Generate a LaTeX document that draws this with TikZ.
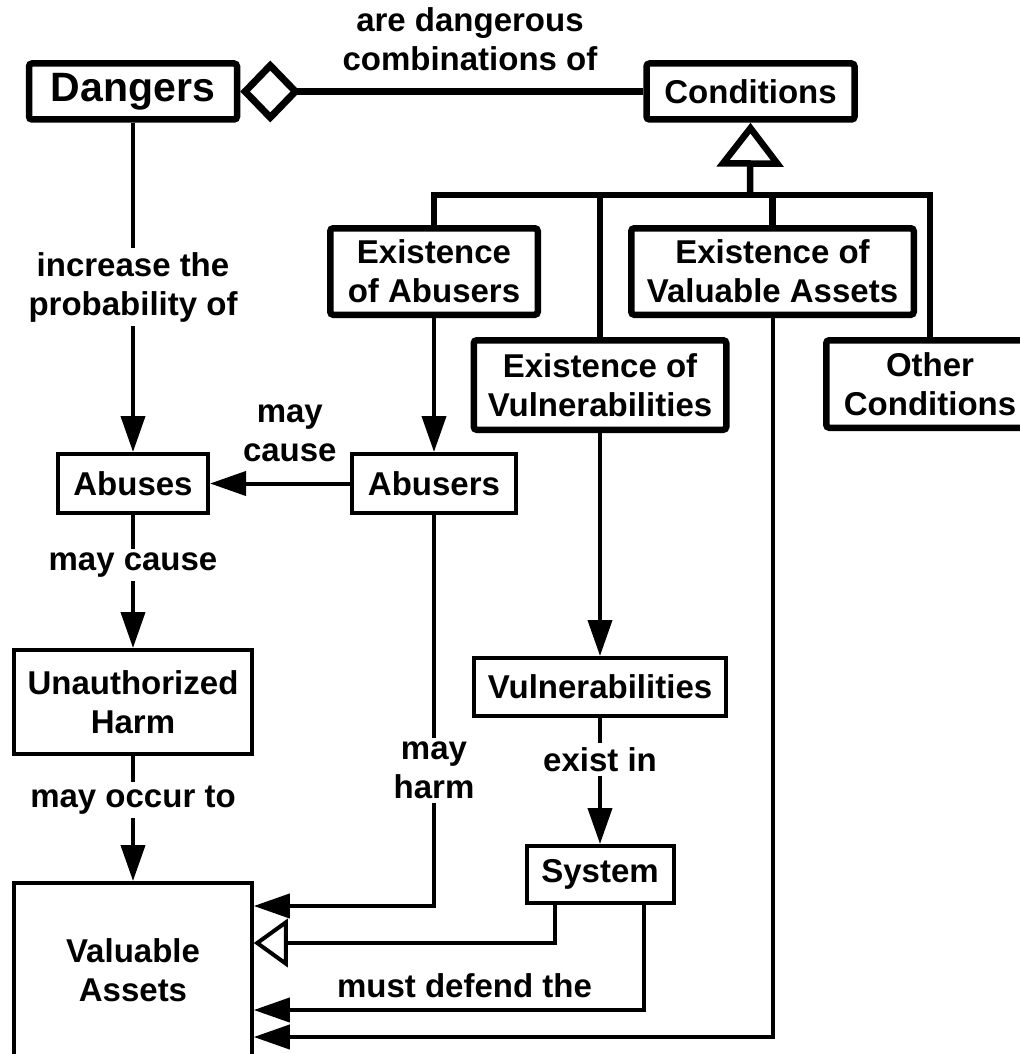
\documentclass[tikz,border=0pt]{standalone}
\usepackage{fontspec}
\setmainfont{Liberation Sans}
\usetikzlibrary{arrows.meta, positioning}

\tikzset{
  every node/.style={font=\bfseries\fontsize{16.5}{19.5}\selectfont},
  thinbox/.style={draw, line width=2pt, align=center, inner sep=0pt},
  thickbox/.style={thinbox, line width=3.25pt, rounded corners=1.5pt},
  lbl/.style={fill=white, align=center, inner sep=2pt},
  flow/.style={line width=2pt, -{Triangle[length=18pt, width=12pt]}},
  isa/.style={line width=2pt, -{Triangle[open, length=17pt, width=24pt]}},
  bus/.style={line width=3.25pt},
}

\begin{document}
\begin{tikzpicture}[x=0.5pt, y=-0.5pt]
  \useasboundingbox (0,0) rectangle (1020,1054);

  % dangers and conditions
  \node[thickbox, minimum width=104pt, minimum height=28pt,
        font=\bfseries\fontsize{20.5}{24}\selectfont] (dangers) at (133,91.5) {Dangers};
  \node[thickbox, minimum width=104pt, minimum height=28pt] (conditions) at (750.5,91.5) {Conditions};

  % kinds of conditions
  \node[thickbox, minimum width=103.75pt, minimum height=43.25pt] (exAbusers) at (434,271.5) {Existence\\of Abusers};
  \node[thickbox, minimum width=141.25pt, minimum height=43.25pt] (exAssets) at (772.5,271.5) {Existence of\\Valuable Assets};
  \node[thickbox, minimum width=126.25pt, minimum height=44.75pt] (exVuln) at (600,385) {Existence of\\Vulnerabilities};
  \node[thickbox, minimum width=103.75pt, minimum height=43.75pt] (other) at (930,384) {Other\\Conditions};

  % the rest
  \node[thinbox, minimum width=75pt, minimum height=29.5pt] (abuses) at (133,483.5) {Abuses};
  \node[thinbox, minimum width=82pt, minimum height=29.5pt] (abusers) at (434,483.5) {Abusers};
  \node[thinbox, minimum width=118.75pt, minimum height=52pt] (unauth) at (133,702) {Unauthorized\\Harm};
  \node[thinbox, minimum width=126pt, minimum height=29pt] (vuln) at (600,687) {Vulnerabilities};
  \node[thinbox, minimum width=73.5pt, minimum height=28.5pt] (system) at (600,874.5) {System};
  \node[thinbox, minimum width=118.75pt, minimum height=87pt] (assets) at (133,970) {Valuable\\Assets};

  \coordinate (bus) at (750,195);
  \coordinate (rowHarm) at (0,906);
  \coordinate (rowIsa) at (0,943);
  \coordinate (rowDefend) at (0,1010);
  \coordinate (rowExist) at (0,1037);

  % aggregation and generalization
  \draw[line width=3.5pt, -{Diamond[open, length=30pt, width=31pt]}] (conditions.west)
    -- node[pos=0.43, above=8.5pt, inner sep=0pt, align=center] {are dangerous\\combinations of} (dangers.east);
  \draw[bus, -{Triangle[open, length=22pt, width=33pt]}] (bus) -- (conditions.south);
  \draw[bus] (exAbusers.north) |- (bus) -| (other.north);
  \draw[bus] (exVuln.north) -- (exVuln.north |- bus);
  \draw[bus] (exAssets.north) -- (exAssets.north |- bus);

  % left column
  \draw[flow] (dangers.south) -- node[lbl] {increase the\\probability of} (abuses.north);
  \draw[flow] (abuses.south) -- node[lbl, pos=0.376] {may cause} (unauth.north);
  \draw[flow] (unauth.south) -- node[lbl, pos=0.35] {may occur to} (assets.north);

  % abusers
  \draw[flow] (exAbusers.south) -- (abusers.north);
  \draw[flow] (abusers.west) -- node[pos=0.43, above=10pt, inner sep=0pt, align=center] {may\\cause} (abuses.east);
  \draw[flow] (abusers.south) |- node[lbl, pos=0.327] {may\\harm} (assets.east |- rowHarm);

  % vulnerabilities and system
  \draw[flow] (exVuln.south) -- (vuln.north);
  \draw[flow] (vuln.south) -- node[lbl, pos=0.33] {exist in} (system.north);
  \draw[isa] ([xshift=-22.5pt]system.south) |- (assets.east |- rowIsa);
  \draw[flow] ([xshift=22pt]system.south) |- node[pos=0.73, above=5pt, inner sep=0pt] {must defend the} (assets.east |- rowDefend);
  \draw[flow] (exAssets.south) |- (assets.east |- rowExist);
\end{tikzpicture}
\end{document}
